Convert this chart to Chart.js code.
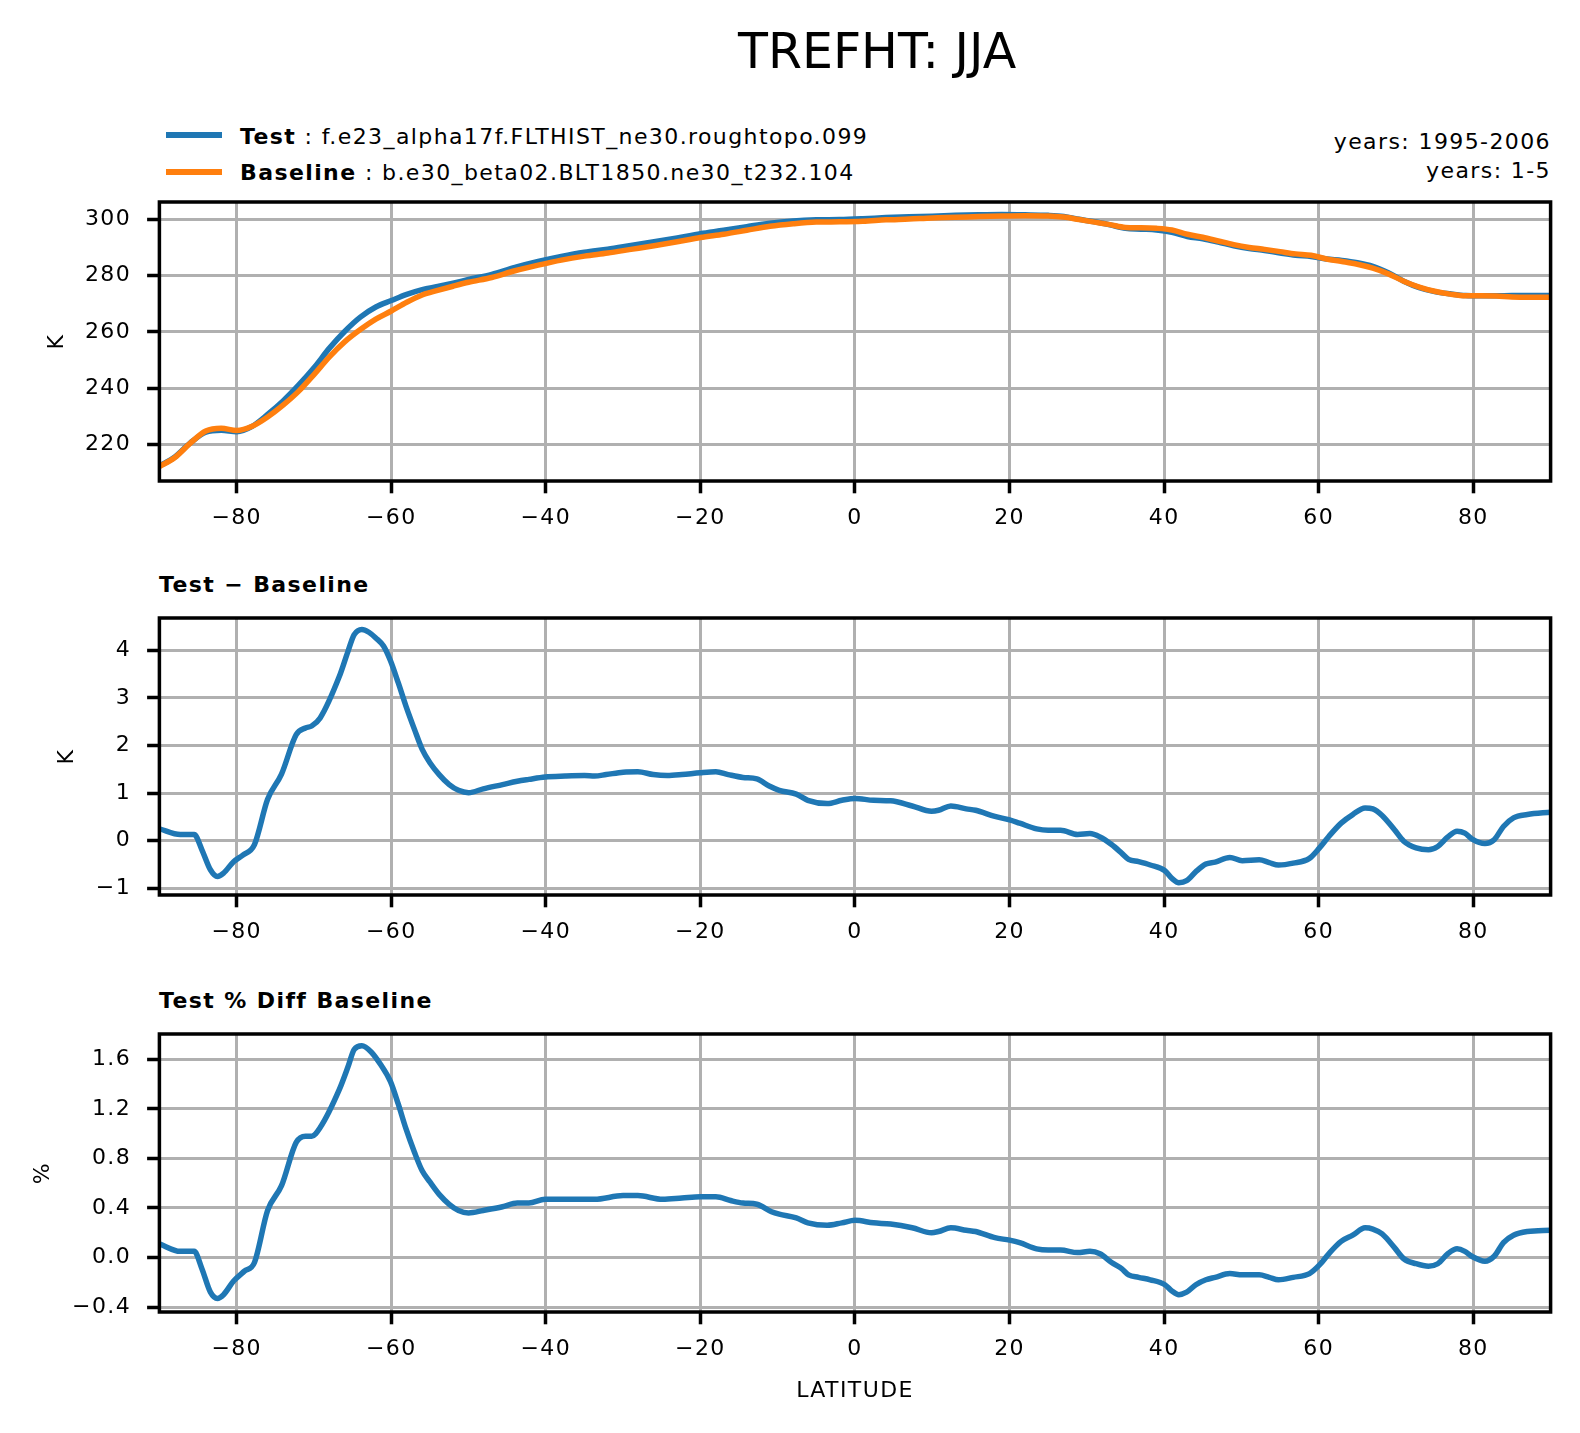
<!DOCTYPE html>
<html>
<head>
<meta charset="utf-8">
<title>TREFHT: JJA</title>
<script src="https://cdn.jsdelivr.net/npm/chart.js@4.4.0/dist/chart.umd.min.js"></script>
<style>
  html, body { margin: 0; padding: 0; background: #fff; }
  body { width: 1580px; height: 1433px; position: relative; overflow: hidden;
         font-family: "DejaVu Sans", sans-serif; color: #000; }
  .txt { position: absolute; white-space: nowrap; line-height: 1; font-size: 22px; letter-spacing: 1.4px; }
  .swatch { position: absolute; left: 166px; width: 56px; height: 6px; }
  canvas { position: absolute; left: 0; }
</style>
</head>
<body>

<div class="txt" style="left:738px; top:27px; font-size:49px; letter-spacing:0;">TREFHT: JJA</div>

<div class="swatch" style="top:132px; background:#1f77b4;"></div>
<div class="swatch" style="top:169px; background:#ff7f0e;"></div>
<div class="txt" style="left:240px; top:125.7px;"><b>Test</b> : f.e23_alpha17f.FLTHIST_ne30.roughtopo.099</div>
<div class="txt" style="left:240px; top:162.4px;"><b>Baseline</b> : b.e30_beta02.BLT1850.ne30_t232.104</div>
<div class="txt" style="right:29px; top:130.7px; text-align:right;">years: 1995-2006</div>
<div class="txt" style="right:29px; top:159.7px; text-align:right;">years: 1-5</div>

<div class="txt" style="left:159px; top:574.4px; font-weight:bold;">Test &minus; Baseline</div>
<div class="txt" style="left:159px; top:989.7px; font-weight:bold;">Test % Diff Baseline</div>

<canvas id="p1" width="1580" height="350" style="top:190px; width:1580px; height:350px;"></canvas>
<canvas id="p2" width="1580" height="350" style="top:606px; width:1580px; height:350px;"></canvas>
<canvas id="p3" width="1580" height="411" style="top:1022px; width:1580px; height:411px;"></canvas>

<script>
// latitude ticks shared by all panels
var latTicks = [-80, -60, -40, -20, 0, 20, 40, 60, 80];

// panel 1: zonal mean TREFHT (K)
var topLat = [-90, -88, -86, -84, -82, -80, -78, -76, -74, -72, -70, -68, -66, -64, -62, -60, -58, -56, -54, -52, -50,
  -47, -44, -41, -38, -35, -32, -29, -26, -23, -20, -17, -14, -11, -8, -5, -2,
  1, 4, 7, 10, 13, 16, 19, 22, 25,
  27, 29, 31, 33, 35, 37, 39, 41, 43, 45, 47, 49, 51, 53, 55, 57, 59, 61, 63, 65, 67, 69, 71, 73, 75, 77, 79, 81, 83, 85, 87, 90];
var testK = [212.3, 215.5, 220.5, 224.3, 225.0, 224.5, 226.4, 230.6, 235.4, 241.0, 247.2, 254.2, 260.2, 265.2, 268.8, 271.1, 273.3, 275.0, 276.1, 277.3, 278.6,
  280.4, 282.9, 285.0, 286.8, 288.3, 289.4, 290.7, 292.0, 293.4, 294.9, 296.1, 297.4, 298.6, 299.4, 299.8, 299.9,
  300.2, 300.6, 300.9, 301.1, 301.4, 301.6, 301.7, 301.6, 301.4,
  301.0, 300.0, 299.1, 298.0, 296.8, 296.5, 296.2, 295.4, 293.9, 293.1, 291.9, 290.6, 289.6, 288.9, 288.0, 287.2, 286.8, 285.9, 285.4, 284.6, 283.3, 281.0, 278.0, 275.7, 274.3, 273.5, 272.9, 272.8, 272.8, 272.9, 272.9, 272.9];
var baseK = [212.1, 215.3, 220.4, 224.7, 225.7, 224.9, 226.4, 229.7, 233.9, 238.8, 244.8, 251.1, 256.5, 260.8, 264.5, 267.4, 270.5, 273.1, 274.7, 276.2, 277.6,
  279.3, 281.7, 283.7, 285.5, 286.9, 288.0, 289.3, 290.6, 292.0, 293.5, 294.7, 296.1, 297.5, 298.4, 299.0, 299.1,
  299.3, 299.8, 300.1, 300.5, 300.7, 301.0, 301.2, 301.3, 301.2,
  300.8, 299.9, 299.0, 298.1, 297.1, 297.0, 296.8, 296.2, 294.7, 293.6, 292.3, 291.0, 290.0, 289.3, 288.5, 287.7, 287.2, 285.9, 285.0, 284.0, 282.6, 280.6, 278.0, 275.9, 274.4, 273.4, 272.8, 272.8, 272.7, 272.4, 272.3, 272.3];
var topTicks = [220, 240, 260, 280, 300];

// panel 2: Test - Baseline (K)
var diffLat = [-90, -87.3, -85.5, -84.5, -83.4, -82.5, -81.7, -80.4, -79.2, -77.7, -76.0, -74.2, -72.3, -71.1, -70.3, -69.2,
  -66.7, -65.6, -64.8, -63.8, -62.9, -62.0, -61.0, -60.1, -59.1, -58.1, -57.0, -56.0, -55.0, -53.8, -52.5, -51.3, -50.0,
  -48.1, -45.6, -43.7, -42.2, -40.1, -37.5, -35.0, -33.7, -32.2, -30.0, -28.1, -26.1, -24.3, -22.4, -20.0, -18.0, -16.4,
  -14.5, -12.7, -11.1, -9.8, -7.6, -6.1, -3.6, -1.7, 0, 2.4, 4.6, 7.4, 9.9, 10.8, 12.4, 14.4, 15.6, 18.1, 20.0, 21.3,
  23.5, 25.0, 26.6, 28.8, 30.4, 31.7, 33.2, 34.5, 35.4, 36.7, 38.2, 40.1, 41.0, 41.9, 42.9, 44.1, 45.4, 46.6, 48.5, 50.1,
  52.3, 53.6, 54.8, 56.7, 58.8, 60.1, 61.3, 62.9, 64.4, 66.0, 67.0, 68.2, 69.8, 71.0, 72.6, 74.2, 75.4, 76.7, 77.9, 78.9,
  79.8, 81.5, 82.7, 83.9, 85.2, 87.0, 90];
var diffK = [0.25, 0.13, 0.13, -0.19, -0.61, -0.75, -0.68, -0.44, -0.30, -0.08, 0.87, 1.40, 2.23, 2.37, 2.41, 2.58,
  3.46, 3.98, 4.33, 4.44, 4.38, 4.26, 4.09, 3.78, 3.32, 2.83, 2.34, 1.92, 1.64, 1.39, 1.18, 1.06, 1.01,
  1.09, 1.18, 1.25, 1.29, 1.34, 1.36, 1.37, 1.36, 1.39, 1.44, 1.45, 1.39, 1.37, 1.39, 1.43, 1.45, 1.39,
  1.33, 1.30, 1.15, 1.06, 0.98, 0.85, 0.78, 0.85, 0.89, 0.85, 0.84, 0.73, 0.62, 0.64, 0.73, 0.67, 0.64, 0.51, 0.44, 0.37,
  0.25, 0.22, 0.22, 0.13, 0.15, 0.08, -0.08, -0.26, -0.39, -0.44, -0.51, -0.63, -0.79, -0.88, -0.84, -0.65, -0.49, -0.45, -0.35, -0.42,
  -0.40, -0.46, -0.51, -0.47, -0.37, -0.15, 0.09, 0.37, 0.55, 0.69, 0.67, 0.53, 0.23, -0.01, -0.15, -0.19, -0.12, 0.08, 0.20, 0.16,
  0.04, -0.06, 0.02, 0.30, 0.48, 0.55, 0.60];
var diffTicks = [-1, 0, 1, 2, 3, 4];

// panel 3: Test % Diff Baseline
var pctLat = [-90, -87.3, -85.5, -84.5, -83.4, -82.5, -81.7, -80.4, -79.0, -77.7, -76.0, -74.2, -72.3, -71.1, -70.3, -69.2,
  -66.7, -65.6, -64.8, -63.8, -62.6, -61.4, -60.1, -59.1, -58.1, -57.0, -56.0, -55.0, -53.8, -52.5, -51.3, -50.0,
  -48.1, -45.6, -43.7, -42.2, -40.1, -35.0, -33.7, -30.0, -28.1, -24.9, -22.4, -20.0, -18.0, -16.1,
  -14.5, -12.7, -10.8, -9.8, -7.6, -6.1, -3.6, -1.7, 0, 2.4, 4.6, 7.4, 9.9, 10.8, 12.4, 14.4, 15.6, 18.1, 20.0, 21.3,
  23.5, 25.0, 26.6, 28.8, 30.4, 31.7, 33.2, 34.5, 35.4, 36.7, 38.2, 40.1, 41.0, 41.9, 42.9, 44.1, 45.4, 46.6, 48.5, 50.1,
  52.3, 53.6, 54.8, 56.7, 58.8, 60.1, 61.3, 62.9, 64.4, 66.0, 67.0, 68.2, 69.8, 71.0, 72.6, 74.2, 75.4, 76.7, 77.9, 78.9,
  79.8, 81.5, 82.7, 83.9, 85.2, 87.0, 90];
var pctVal = [0.11, 0.05, 0.05, -0.09, -0.28, -0.33, -0.30, -0.19, -0.11, -0.04, 0.38, 0.58, 0.93, 0.98, 0.98, 1.05,
  1.36, 1.54, 1.68, 1.71, 1.66, 1.56, 1.42, 1.24, 1.04, 0.85, 0.70, 0.61, 0.51, 0.43, 0.38, 0.36,
  0.38, 0.41, 0.44, 0.44, 0.47, 0.47, 0.47, 0.50, 0.50, 0.47, 0.48, 0.49, 0.49, 0.46,
  0.44, 0.43, 0.37, 0.35, 0.32, 0.28, 0.26, 0.28, 0.30, 0.28, 0.27, 0.24, 0.20, 0.21, 0.24, 0.22, 0.21, 0.16, 0.14, 0.12,
  0.07, 0.06, 0.06, 0.04, 0.05, 0.03, -0.04, -0.09, -0.14, -0.16, -0.18, -0.22, -0.27, -0.30, -0.28, -0.22, -0.18, -0.16, -0.13, -0.14,
  -0.14, -0.16, -0.18, -0.16, -0.13, -0.06, 0.03, 0.13, 0.18, 0.24, 0.23, 0.19, 0.08, -0.01, -0.05, -0.07, -0.05, 0.03, 0.07, 0.05,
  0.01, -0.03, 0.01, 0.12, 0.18, 0.21, 0.22];
var pctTicks = [-0.4, 0, 0.4, 0.8, 1.2, 1.6];

var BLUE = "#1f77b4";
var ORANGE = "#ff7f0e";
var PLOT_LEFT = 159.4;   // left edge of every axes box
var PLOT_RIGHT = 1550.6; // right edge of every axes box

Chart.defaults.font.family = "'DejaVu Sans'";
Chart.defaults.font.size = 22;
Chart.defaults.color = "#000";

function points(xs, ys) {
  return xs.map(function (x, i) { return { x: x, y: ys[i] }; });
}

function fmt(decimals) {
  return function (value) {
    var s = Math.abs(value).toFixed(decimals);
    return value < -1e-9 ? "\u2212" + s : s;
  };
}

function line(label, data, color, order) {
  return {
    label: label,
    data: data,
    borderColor: color,
    backgroundColor: color,
    borderWidth: 5.5,
    pointRadius: 0,
    cubicInterpolationMode: "monotone",
    order: order,
  };
}

// matplotlib-like spines + spaced text
var framePlugin = {
  id: "frame",
  beforeDraw: function (chart) {
    chart.ctx.letterSpacing = "1.4px";
  },
  afterDatasetsDraw: function (chart) {
    var ctx = chart.ctx;
    var a = chart.chartArea;
    ctx.save();
    ctx.strokeStyle = "#000";
    ctx.lineWidth = 3.5;
    ctx.strokeRect(a.left, a.top, a.right - a.left, a.bottom - a.top);
    ctx.restore();
  },
};

function makePanel(id, datasets, p) {
  var gridOpts = {
    color: "#b0b0b0",
    lineWidth: 3,
    tickColor: "#000",
    tickWidth: 3.5,
    tickLength: 12.3,
  };
  return new Chart(document.getElementById(id), {
    type: "line",
    data: { datasets: datasets },
    options: {
      responsive: false,
      animation: false,
      devicePixelRatio: 1,
      events: [],
      layout: { padding: { top: 12, right: 1580 - PLOT_RIGHT, left: 0, bottom: 0 } },
      plugins: { legend: { display: false }, tooltip: { enabled: false } },
      scales: {
        x: {
          type: "linear",
          min: -90,
          max: 90,
          grid: gridOpts,
          border: { display: false },
          afterBuildTicks: function (axis) {
            axis.ticks = latTicks.map(function (v) { return { value: v }; });
          },
          afterFit: function (axis) {
            axis.height = p.xHeight;
            axis.paddingLeft = 0;
            axis.paddingRight = 0;
          },
          ticks: { padding: 12, autoSkip: false, maxRotation: 0, callback: fmt(0) },
          title: p.xTitle
            ? { display: true, text: p.xTitle, padding: { top: 0, bottom: 29 } }
            : { display: false },
        },
        y: {
          type: "linear",
          min: p.yMin,
          max: p.yMax,
          grid: gridOpts,
          border: { display: false },
          afterBuildTicks: function (axis) {
            axis.ticks = p.yTicks.map(function (v) { return { value: v }; });
          },
          afterFit: function (axis) {
            axis.width = PLOT_LEFT;
            axis.paddingTop = 0;
            axis.paddingBottom = 0;
          },
          ticks: { padding: 16, autoSkip: false, callback: fmt(p.decimals) },
          title: { display: true, text: p.yTitle, padding: { top: p.yTitlePad, bottom: 0 } },
        },
      },
    },
    plugins: [framePlugin],
  });
}

makePanel("p1", [
  line("Test", points(topLat, testK), BLUE, 2),
  line("Baseline", points(topLat, baseK), ORANGE, 1),
], { yMin: 206.95, yMax: 306.15, yTicks: topTicks, decimals: 0, yTitle: "K", yTitlePad: 44, xHeight: 540 - 481 });

makePanel("p2", [
  line("Test \u2212 Baseline", points(diffLat, diffK), BLUE, 1),
], { yMin: -1.14, yMax: 4.68, yTicks: diffTicks, decimals: 0, yTitle: "K", yTitlePad: 54, xHeight: 956 - 895 });

makePanel("p3", [
  line("Test % Diff Baseline", points(pctLat, pctVal), BLUE, 1),
], { yMin: -0.44, yMax: 1.805, yTicks: pctTicks, decimals: 1, yTitle: "%", yTitlePad: 30, xHeight: 1433 - 1312, xTitle: "LATITUDE" });
</script>
</body>
</html>
